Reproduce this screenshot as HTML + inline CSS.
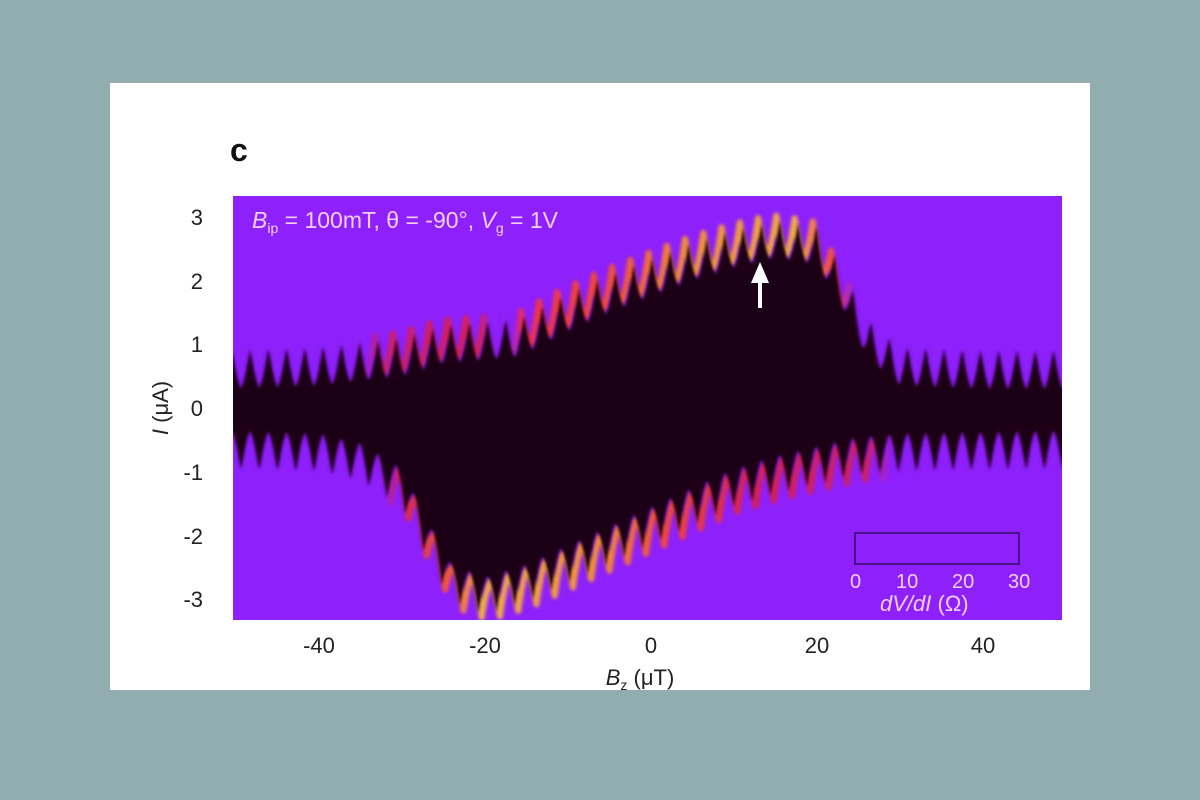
<!DOCTYPE html>
<html><head><meta charset="utf-8"><style>
body{margin:0;width:1200px;height:800px;background:#92adb0;overflow:hidden;font-family:"Liberation Sans",sans-serif}
#panel{position:absolute;left:110px;top:83px;width:980px;height:607px;background:#fff}
.t{position:absolute;font-size:22px;color:#222}
</style></head><body>
<div id="panel"></div>
<div class="t" style="left:230px;top:132px;font-size:32px;font-weight:bold;color:#111">c</div>
<svg id="s" width="1200" height="800" style="position:absolute;left:0;top:0">
<defs>
<filter id="b1"><feGaussianBlur stdDeviation="1.4"/></filter>
<filter id="b2"><feGaussianBlur stdDeviation="2.5"/></filter>
<filter id="b3"><feGaussianBlur stdDeviation="1.5"/></filter>
<clipPath id="cp"><rect x="233" y="196" width="829" height="424"/></clipPath>
<linearGradient id="gu" gradientUnits="userSpaceOnUse" x1="233" y1="0" x2="1062" y2="0">
<stop offset="0" stop-color="#8e20fb" stop-opacity="0"/>
<stop offset="0.14" stop-color="#8e20fb" stop-opacity="0"/>
<stop offset="0.18" stop-color="#d0205a"/>
<stop offset="0.30" stop-color="#e02040"/>
<stop offset="0.32" stop-color="#8e20fb" stop-opacity="0"/>
<stop offset="0.35" stop-color="#ff3030"/>
<stop offset="0.45" stop-color="#ff5020"/>
<stop offset="0.55" stop-color="#ffa020"/>
<stop offset="0.68" stop-color="#ffc030"/>
<stop offset="0.73" stop-color="#ff4030"/>
<stop offset="0.76" stop-color="#8e20fb" stop-opacity="0"/>
<stop offset="1" stop-color="#8e20fb" stop-opacity="0"/>
</linearGradient>
<linearGradient id="gl" gradientUnits="userSpaceOnUse" x1="233" y1="0" x2="1062" y2="0">
<stop offset="0" stop-color="#8e20fb" stop-opacity="0"/>
<stop offset="0.17" stop-color="#8e20fb" stop-opacity="0"/>
<stop offset="0.20" stop-color="#e02040"/>
<stop offset="0.26" stop-color="#ff6020"/>
<stop offset="0.30" stop-color="#ffc030"/>
<stop offset="0.44" stop-color="#ffa020"/>
<stop offset="0.52" stop-color="#ff5020"/>
<stop offset="0.62" stop-color="#e02040"/>
<stop offset="0.77" stop-color="#d0205a"/>
<stop offset="0.81" stop-color="#8e20fb" stop-opacity="0"/>
<stop offset="1" stop-color="#8e20fb" stop-opacity="0"/>
</linearGradient>
</defs>
<rect x="233" y="196" width="829" height="424" fill="#8e20fb"/>
<g id="g" clip-path="url(#cp)"></g>
<rect x="855" y="533" width="164" height="31" fill="none" stroke="#4a108a" stroke-width="2"/>
<g fill="#f0d0f8" font-size="23" font-family="Liberation Sans,sans-serif">
<text x="252" y="228"><tspan font-style="italic">B</tspan><tspan font-size="14" dy="5">ip</tspan><tspan dy="-5"> = 100mT, θ = -90°, </tspan><tspan font-style="italic">V</tspan><tspan font-size="14" dy="5">g</tspan><tspan dy="-5"> = 1V</tspan></text>
<text x="850" y="588" font-size="20">0</text><text x="896" y="588" font-size="20">10</text><text x="952" y="588" font-size="20">20</text><text x="1008" y="588" font-size="20">30</text>
<text x="880" y="611" font-size="22"><tspan font-style="italic">dV/dI</tspan> (Ω)</text>
</g>
<g fill="#222" font-size="22" font-family="Liberation Sans,sans-serif" text-anchor="end">
<text x="203" y="225">3</text><text x="203" y="289">2</text><text x="203" y="352">1</text><text x="203" y="416">0</text><text x="203" y="480">-1</text><text x="203" y="544">-2</text><text x="203" y="607">-3</text>
</g>
<g fill="#222" font-size="22" font-family="Liberation Sans,sans-serif" text-anchor="middle">
<text x="319" y="653">-40</text><text x="485" y="653">-20</text><text x="651" y="653">0</text><text x="817" y="653">20</text><text x="983" y="653">40</text>
<text x="640" y="685"><tspan font-style="italic">B</tspan><tspan font-size="14" dy="5">z</tspan><tspan dy="-5"> (μT)</tspan></text>
<text transform="translate(168,408) rotate(-90)"><tspan font-style="italic">I</tspan> (μA)</text>
</g>
<g stroke="#fff" stroke-width="4" fill="#fff">
<line x1="760" y1="308" x2="760" y2="275"/><polygon points="751,283 760,262 769,283" stroke="none"/>
</g>
</svg>
<script>
function interp(pts,B){for(let i=0;i<pts.length-1;i++){if(B>=pts[i][0]&&B<=pts[i+1][0]){let t=(B-pts[i][0])/(pts[i+1][0]-pts[i][0]);return pts[i][1]+t*(pts[i+1][1]-pts[i][1]);}}return pts[pts.length-1][1];}
const U=[[-52,0.3],[-40,0.35],[-30,0.5],[-25,0.7],[-20,0.75],[-16,0.8],[-10,1.2],[-5,1.5],[0,1.75],[5,2.0],[10,2.2],[15,2.35],[20,2.25],[23,1.6],[26,0.8],[30,0.35],[40,0.3],[52,0.3]];
const L=[[-52,-0.35],[-40,-0.4],[-35,-0.55],[-30,-0.95],[-27,-1.75],[-24,-2.45],[-20,-2.65],[-15,-2.45],[-10,-2.15],[-5,-1.85],[0,-1.55],[5,-1.25],[10,-0.95],[15,-0.75],[20,-0.6],[25,-0.45],[30,-0.4],[52,-0.35]];
const X=B=>651+B*8.3, Y=I=>408-I*63.7;
const P=2.2;
function tooth(B){let ph=((B+100)/P)%1;return Math.pow(1-Math.abs(2*ph-1),1.6);}
let up=[],lo=[],gu=[],gl=[];
for(let B=-52;B<=52;B+=0.1){let t=tooth(B),t2=tooth(B+P/2);
up.push([X(B),Y(interp(U,B)+0.6*t)]);lo.push([X(B),Y(interp(L,B)-0.6*t2)]);
gu.push([X(B-0.4),Y(interp(U,B)+0.6*t+0.08)]);gl.push([X(B+0.4),Y(interp(L,B)-0.6*t2-0.08)]);}
const g=document.getElementById('g');
const ns='http://www.w3.org/2000/svg';
function el(n,a){let e=document.createElementNS(ns,n);for(let k in a)e.setAttribute(k,a[k]);g.appendChild(e);return e;}
const pp=a=>a.map(p=>p[0].toFixed(1)+','+p[1].toFixed(1)).join('L');
let d='M'+pp(up)+'L'+pp(lo.slice().reverse())+'Z';
el('path',{d:d,fill:'#5a0f8a',filter:'url(#b2)'});
el('path',{d:'M'+pp(gu),fill:'none',stroke:'url(#gu)','stroke-width':6,'stroke-opacity':0.85,'stroke-linejoin':'round',filter:'url(#b3)'});
el('path',{d:'M'+pp(gl),fill:'none',stroke:'url(#gl)','stroke-width':6,'stroke-opacity':0.85,'stroke-linejoin':'round',filter:'url(#b3)'});
el('path',{d:d,fill:'#1e0318',filter:'url(#b1)'});
</script>
</body></html>
